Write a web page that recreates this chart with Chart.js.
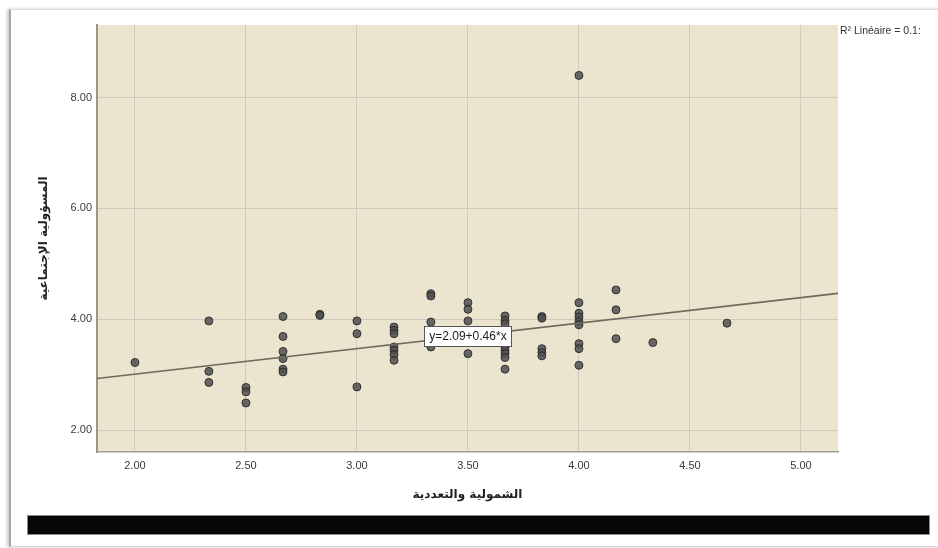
<!DOCTYPE html>
<html>
<head>
<meta charset="utf-8">
<script src="https://cdn.jsdelivr.net/npm/chart.js@4/dist/chart.umd.min.js"></script>
<style>
  html, body { margin: 0; padding: 0; background: #fff; }
  #page { position: relative; width: 938px; height: 548px; overflow: hidden; background: #fff; }
  #frame {
    position: absolute; left: 9px; top: 9px; width: 940px; height: 536px;
    border-top: 1px solid #dcdcdc; border-bottom: 1px solid #d8d8d8;
    border-left: 2px solid #a8a8a8;
    box-shadow: -2px 0 3px rgba(0,0,0,0.22);
  }
  #chart { position: absolute; left: 0; top: 0; }
  #bar {
    position: absolute; left: 27px; top: 515px; width: 901px; height: 18px;
    background: #070707; border: 1px solid #8a8a8a;
  }
</style>
</head>
<body>
<div id="page">
  <div id="frame"></div>
  <canvas id="chart" width="938" height="548"></canvas>
  <div id="bar"></div>
</div>
<script>
// Scores on the two scales, one entry per respondent
const xValues = [
  2.00,
  2.333, 2.333, 2.333,
  2.50, 2.50, 2.50,
  2.667, 2.667, 2.667, 2.667, 2.667, 2.667,
  2.833, 2.833,
  3.00, 3.00, 3.00,
  3.167, 3.167, 3.167, 3.167, 3.167, 3.167, 3.167,
  3.333, 3.333, 3.333, 3.333, 3.333,
  3.50, 3.50, 3.50, 3.50,
  3.667, 3.667, 3.667, 3.667, 3.667, 3.667, 3.667, 3.667,
  3.833, 3.833, 3.833, 3.833, 3.833,
  4.00, 4.00, 4.00, 4.00, 4.00, 4.00, 4.00, 4.00, 4.00,
  4.167, 4.167, 4.167,
  4.333,
  4.667
];
const yValues = [
  3.22,
  3.97, 3.06, 2.86,
  2.77, 2.69, 2.49,
  4.05, 3.69, 3.42, 3.29, 3.10, 3.05,
  4.09, 4.07,
  3.97, 3.74, 2.78,
  3.86, 3.80, 3.74, 3.50, 3.44, 3.36, 3.26,
  4.46, 4.42, 3.95, 3.72, 3.50,
  4.30, 4.18, 3.97, 3.38,
  4.06, 3.98, 3.92, 3.50, 3.44, 3.38, 3.31, 3.10,
  4.05, 4.02, 3.47, 3.40, 3.34,
  8.40, 4.30, 4.11, 4.04, 3.96, 3.90, 3.56, 3.47, 3.17,
  4.53, 4.17, 3.65,
  3.58,
  3.93
];

// Linear fit reported on the chart: y = 2.09 + 0.46 * x
const fitIntercept = 2.09;
const fitSlope = 0.46;
const fitLabel = 'y=2.09+0.46*x';
const fitLabelAt = 3.5;
const r2Label = 'R\u00B2 Lin\u00E9aire = 0.1:';

const xTicks = [2.0, 2.5, 3.0, 3.5, 4.0, 4.5, 5.0];
const yTicks = [2.0, 4.0, 6.0, 8.0];
const xRange = [1.829, 5.167];
const yRange = [1.605, 9.31];

const xTitle = 'الشمولية والتعددية';
const yTitle = 'المسؤولية الإجتماعية';

const points = xValues.map((x, i) => ({ x: x, y: yValues[i] }));
const fitLine = xRange.map(x => ({ x: x, y: fitIntercept + fitSlope * x }));

const plotBackground = {
  id: 'plotBackground',
  beforeDraw(chart) {
    const { ctx, chartArea: a } = chart;
    ctx.save();
    ctx.fillStyle = '#ebe5d0';
    ctx.fillRect(a.left, a.top, a.right - a.left, a.bottom - a.top);
    ctx.restore();
  }
};

const annotations = {
  id: 'annotations',
  afterDraw(chart) {
    const { ctx, chartArea: a, scales } = chart;
    ctx.save();
    // equation box on the fit line
    const cx = scales.x.getPixelForValue(fitLabelAt);
    const cy = scales.y.getPixelForValue(fitIntercept + fitSlope * fitLabelAt);
    ctx.font = '12px "Liberation Sans", Arial, sans-serif';
    const w = Math.round(ctx.measureText(fitLabel).width + 10);
    const h = 20;
    const bx = Math.round(cx - w / 2) + 0.5;
    const by = Math.round(cy - h / 2) + 0.5;
    ctx.fillStyle = '#ffffff';
    ctx.fillRect(bx, by, w, h);
    ctx.strokeStyle = '#555555';
    ctx.lineWidth = 1;
    ctx.strokeRect(bx, by, w, h);
    ctx.fillStyle = '#222222';
    ctx.textAlign = 'center';
    ctx.textBaseline = 'middle';
    ctx.fillText(fitLabel, cx, cy + 1);
    // R² note beside the plot
    ctx.font = '10.5px "Liberation Sans", Arial, sans-serif';
    ctx.textAlign = 'left';
    ctx.fillStyle = '#333333';
    ctx.fillText(r2Label, a.right + 2, a.top + 6);
    ctx.restore();
  }
};

new Chart(document.getElementById('chart'), {
  type: 'scatter',
  data: {
    datasets: [
      {
        type: 'line',
        data: fitLine,
        borderColor: '#6e695c',
        borderWidth: 1.6,
        pointRadius: 0,
        fill: false,
        order: 0
      },
      {
        data: points,
        backgroundColor: 'rgba(80,80,80,0.85)',
        borderColor: 'rgba(40,40,40,0.9)',
        borderWidth: 1,
        pointRadius: 4,
        order: 1
      }
    ]
  },
  options: {
    responsive: false,
    animation: false,
    devicePixelRatio: 1,
    layout: { padding: { top: 25, right: 100, left: 0, bottom: 0 } },
    plugins: { legend: { display: false }, tooltip: { enabled: false } },
    scales: {
      x: {
        type: 'linear',
        min: xRange[0],
        max: xRange[1],
        afterFit(s) { s.height = 96; },
        afterBuildTicks(s) { s.ticks = xTicks.map(v => ({ value: v })); },
        grid: { color: '#cfcabd', lineWidth: 1, drawTicks: false },
        border: { color: '#a29e93', width: 1.5 },
        ticks: {
          padding: 7,
          color: '#3a3a3a',
          font: { family: '"Liberation Sans", Arial, sans-serif', size: 11 },
          callback: v => Number(v).toFixed(2)
        },
        title: {
          display: true,
          text: xTitle,
          color: '#222',
          font: { family: '"DejaVu Sans", sans-serif', size: 12, weight: 'bold' },
          padding: { top: 0, bottom: 46 }
        }
      },
      y: {
        type: 'linear',
        min: yRange[0],
        max: yRange[1],
        afterFit(s) { s.width = 97; },
        afterBuildTicks(s) { s.ticks = yTicks.map(v => ({ value: v })); },
        grid: { color: '#cfcabd', lineWidth: 1, drawTicks: false },
        border: { color: '#9a968b', width: 2 },
        ticks: {
          padding: 5,
          color: '#3a3a3a',
          font: { family: '"Liberation Sans", Arial, sans-serif', size: 11 },
          callback: v => Number(v).toFixed(2)
        },
        title: {
          display: true,
          text: yTitle,
          color: '#222',
          font: { family: '"DejaVu Sans", sans-serif', size: 12, weight: 'bold' },
          padding: { top: 37, bottom: 0 }
        }
      }
    }
  },
  plugins: [plotBackground, annotations]
});
</script>
</body>
</html>
